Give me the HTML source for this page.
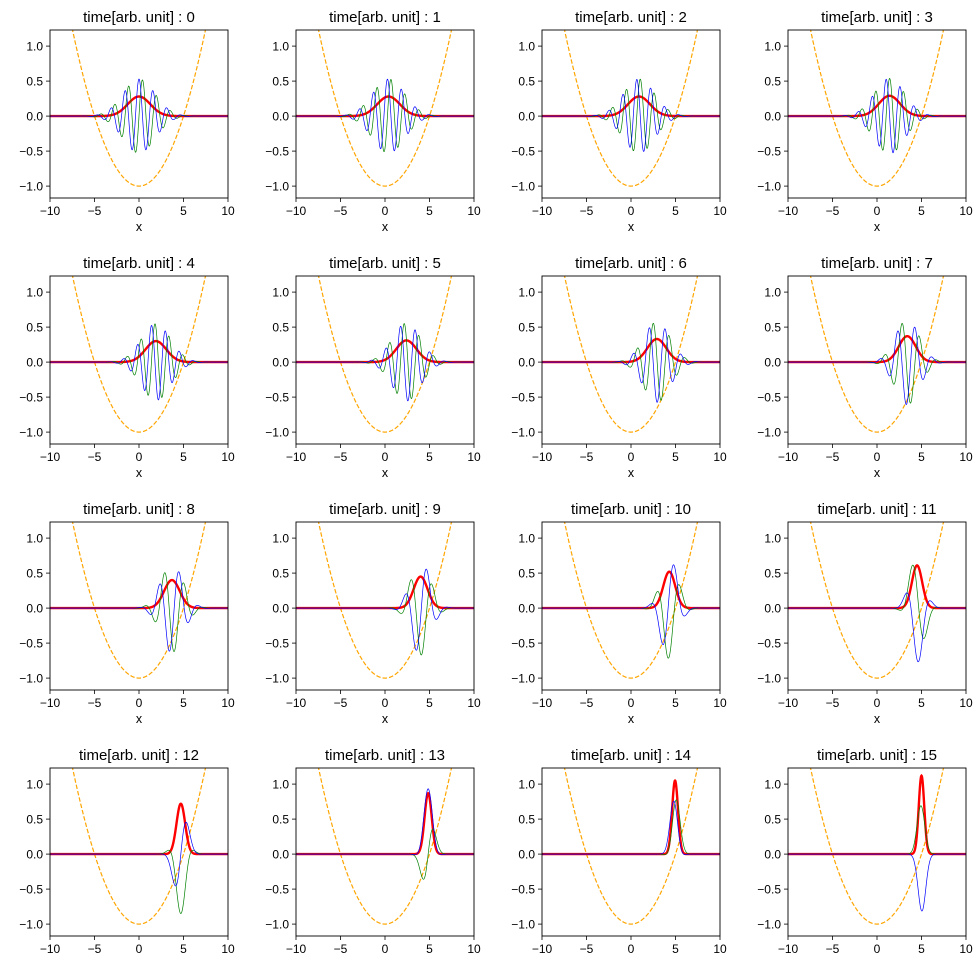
<!DOCTYPE html>
<html><head><meta charset="utf-8"><style>
body{margin:0;background:#fff;}
svg{display:block;font-family:"Liberation Sans","DejaVu Sans",sans-serif;}
</style></head><body>
<svg id="c" width="978" height="963" viewBox="0 0 978 963"></svg>
<script>
// Per-panel data
const times = [0,1,2,3,4,5,6,7,8,9,10,11,12,13,14,15];
const centers = [0,0.4,0.9,1.4,1.9,2.4,2.9,3.4,3.7,4.0,4.3,4.5,4.7,4.85,4.95,5.0];
const peaks = [0.28,0.28,0.28,0.29,0.30,0.31,0.33,0.37,0.40,0.45,0.52,0.61,0.72,0.87,1.05,1.12];
const widths = [1.8,1.8,1.75,1.7,1.65,1.6,1.5,1.35,1.25,1.1,0.95,0.82,0.69,0.57,0.47,0.44];
const waveK = [4,4,4,4,4,3.8,3.5,3.2,2.8,2.5,2.2,1.8,1.5,1.2,0.8,0.3];
const phases = [0,0.5,1,1.5,2,2.5,3,3.5,4,4.5,5,2.8,-1.57,0,0.8,2.44];
const xTicks = [-10,-5,0,5,10];
const yTicks = [1.0,0.5,0.0,-0.5,-1.0];

const NS="http://www.w3.org/2000/svg";
const svg=document.getElementById('c');
const colLeft=[50,296,542,788], rowTop=[30,276,522,768], W=178, H=168;
const xMin=-10,xMax=10,yMin=-1.17,yMax=1.23;
function mk(t,a,p){const e=document.createElementNS(NS,t);for(const k in a)e.setAttribute(k,a[k]);(p||svg).appendChild(e);return e;}
const fmt=v=>(v<0?"\u2212":"")+Math.abs(v).toFixed(1);

times.forEach((t,i)=>{
  const L=colLeft[i%4],T=rowTop[Math.floor(i/4)];
  const sx=x=>L+(x-xMin)/(xMax-xMin)*W;
  const sy=y=>T+(yMax-y)/(yMax-yMin)*H;
  const g=mk('g',{});
  
  
  const cid='clip'+i;
  const cp=mk('clipPath',{id:cid},g);mk('rect',{x:L,y:T,width:W,height:H},cp);
  const plot=mk('g',{'clip-path':'url(#'+cid+')'},g);
  const c=centers[i],A=peaks[i],s=widths[i],k=waveK[i],ph=phases[i];
  let pv='',pr='',pg='',pd='';
  for(let j=0;j<=800;j++){
    const x=xMin+j*(xMax-xMin)/800;
    const env=Math.exp(-(x-c)*(x-c)/(s*s));
    const amp=Math.sqrt(A*env);
    const th=k*(x-c)+ph;
    const re=amp*Math.cos(th), im=amp*Math.sin(th);
    const v=x*x/25-1;
    const sep=j?'L':'M';
    pv+=sep+sx(x).toFixed(2)+','+sy(v).toFixed(2);
    pr+=sep+sx(x).toFixed(2)+','+sy(re).toFixed(2);
    pg+=sep+sx(x).toFixed(2)+','+sy(im).toFixed(2);
    pd+=sep+sx(x).toFixed(2)+','+sy(A*env).toFixed(2);
  }
  let e;
  e=mk('path',{d:pv,fill:'none',stroke:'#ffa500','stroke-width':1.2,'stroke-dasharray':'4.5,2'},plot);
  
  
  e=mk('path',{d:pd,fill:'none',stroke:'#ff0000','stroke-width':2.4},plot);
  
  
  e=mk('path',{d:pg,fill:'none',stroke:'#008000','stroke-width':0.7},plot);
  
  
  e=mk('path',{d:pr,fill:'none',stroke:'#0000ff','stroke-width':0.7},plot);
  
  
  mk('rect',{x:L,y:T,width:W,height:H,fill:'none',stroke:'#000','stroke-width':0.9},g);
  xTicks.forEach(v=>{const X=sx(v);mk('line',{x1:X,x2:X,y1:T+H,y2:T+H+4,stroke:'#000','stroke-width':0.8},g);
    const tx=mk('text',{x:X,y:T+H+17,'font-size':12,'text-anchor':'middle'},g);tx.textContent=fmt(v).replace('.0','');
    
    });
  yTicks.forEach(v=>{const Y=sy(v);mk('line',{x1:L-4,x2:L,y1:Y,y2:Y,stroke:'#000','stroke-width':0.8},g);
    const tx=mk('text',{x:L-7,y:Y+4.5,'font-size':12,'text-anchor':'end'},g);tx.textContent=fmt(v);
    
    });
  const ti=mk('text',{x:L+W/2,y:T-8,'font-size':15,'text-anchor':'middle'},g);ti.textContent='time[arb. unit] : '+t;
  
  
  if(i<12){const xl=mk('text',{x:L+W/2,y:T+H+33,'font-size':12.5,'text-anchor':'middle'},g);xl.textContent='x';
    
    }
});
</script>
</body></html>
